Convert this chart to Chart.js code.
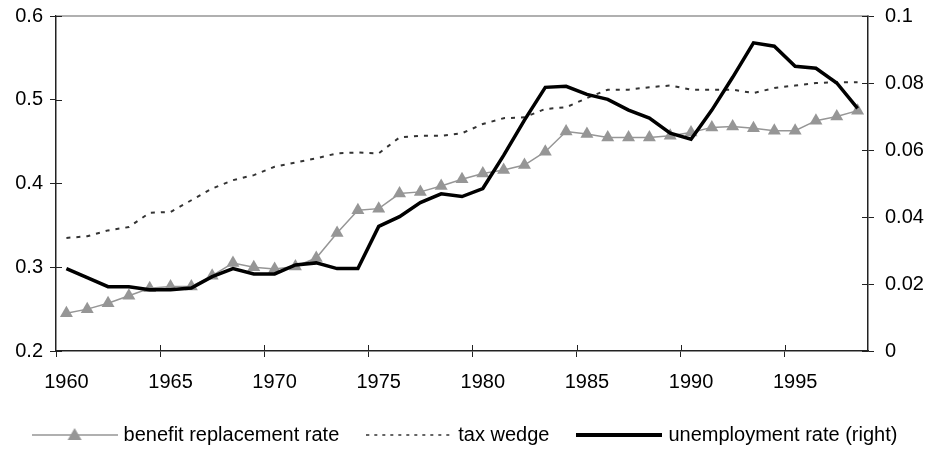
<!DOCTYPE html>
<html>
<head>
<meta charset="utf-8">
<script src="https://cdn.jsdelivr.net/npm/chart.js@4.4.1/dist/chart.umd.min.js"></script>
<style>
  body { margin: 0; background: #fff; }
  canvas { display: block; }
</style>
</head>
<body>
<canvas id="myChart" width="933" height="463"></canvas>
<script>
const years = [];
for (let y = 1960; y <= 1998; y++) years.push(String(y));

// left axis
const benefitRate = [
    0.245, 0.250, 0.257, 0.266, 0.275, 0.277, 0.277, 0.290, 0.305, 0.300,
    0.298, 0.301, 0.311, 0.341, 0.368, 0.370, 0.388, 0.390, 0.397, 0.405,
    0.412, 0.416, 0.422, 0.438, 0.462, 0.459, 0.455, 0.455, 0.455, 0.457,
    0.461, 0.467, 0.468, 0.466, 0.463, 0.463, 0.475, 0.480, 0.487
];
const taxWedge = [
    0.335, 0.337, 0.344, 0.348, 0.365, 0.366, 0.380, 0.394, 0.404, 0.410,
    0.420, 0.425, 0.430, 0.436, 0.437, 0.436, 0.455, 0.457, 0.457, 0.460,
    0.471, 0.478, 0.479, 0.489, 0.491, 0.502, 0.512, 0.512, 0.515, 0.517,
    0.512, 0.512, 0.512, 0.508, 0.514, 0.517, 0.520, 0.521, 0.521
];
// right axis
const unemploymentRate = [
    0.0246, 0.0219, 0.0192, 0.0192, 0.0183, 0.0183, 0.0188, 0.0222, 0.0246, 0.0230,
    0.0230, 0.0257, 0.0263, 0.0246, 0.0246, 0.0372, 0.0401, 0.0443, 0.0469, 0.0461,
    0.0485, 0.0584, 0.0689, 0.0787, 0.0790, 0.0766, 0.0751, 0.0719, 0.0695, 0.0650,
    0.0632, 0.0719, 0.0817, 0.0920, 0.0910, 0.0850, 0.0844, 0.0800, 0.0724
];

const FONT = 'Liberation Sans, Arial, sans-serif';
const GREY = 'rgb(150, 150, 150)';

// legend symbols: short line + marker, like the Excel legend
function legendIcon(kind) {
    const c = document.createElement('canvas');
    c.width = 86; c.height = 20;
    const g = c.getContext('2d');
    g.beginPath();
    g.moveTo(0, 10); g.lineTo(86, 10);
    if (kind === 'benefit') {
        g.strokeStyle = GREY; g.lineWidth = 1.5; g.stroke();
        g.fillStyle = GREY;
        g.beginPath();
        g.moveTo(43, 3); g.lineTo(50, 15); g.lineTo(36, 15); g.closePath();
        g.fill();
    } else if (kind === 'tax') {
        g.strokeStyle = '#333'; g.lineWidth = 1.5; g.setLineDash([3, 5]); g.stroke();
    } else {
        g.strokeStyle = '#000'; g.lineWidth = 4; g.stroke();
    }
    return c;
}
const icons = [legendIcon('benefit'), legendIcon('tax'), legendIcon('unemp')];

const axisExtras = {
    id: 'axisExtras',
    afterDraw(chart) {
        const {ctx, chartArea: a, scales} = chart;
        ctx.save();
        ctx.strokeStyle = 'rgb(150,150,150)';
        ctx.lineWidth = 1.5;
        ctx.beginPath();
        ctx.moveTo(a.left, a.top); ctx.lineTo(a.right, a.top);
        ctx.stroke();
        ctx.strokeStyle = '#222';
        ctx.lineWidth = 1;
        ctx.beginPath();
        scales.y.ticks.forEach((t, i) => {
            const py = Math.round(scales.y.getPixelForTick(i)) + 0.5;
            ctx.moveTo(a.left, py); ctx.lineTo(a.left + 6, py);
        });
        scales.y1.ticks.forEach((t, i) => {
            const py = Math.round(scales.y1.getPixelForTick(i)) + 0.5;
            ctx.moveTo(a.right - 6, py); ctx.lineTo(a.right, py);
        });
        for (let i = 5; i < years.length; i += 5) {
            const px = Math.round(scales.x.getPixelForValue(i - 0.5)) + 0.5;
            ctx.moveTo(px, a.bottom - 6); ctx.lineTo(px, a.bottom);
        }
        ctx.stroke();
        ctx.restore();
    }
};

const noPad = (s) => { s.paddingTop = 0; s.paddingBottom = 0; s.paddingLeft = 0; s.paddingRight = 0; };

new Chart(document.getElementById('myChart').getContext('2d'), {
    type: 'line',
    data: {
        labels: years,
        datasets: [{
            label: 'benefit replacement rate',
            data: benefitRate,
            yAxisID: 'y',
            borderColor: GREY,
            backgroundColor: GREY,
            borderWidth: 1.5,
            pointStyle: 'triangle',
            pointRadius: 7.5,
            pointBorderWidth: 0,
            order: 2
        }, {
            label: 'tax wedge',
            data: taxWedge,
            yAxisID: 'y',
            borderColor: '#333',
            borderWidth: 2,
            borderDash: [4, 6],
            pointRadius: 0,
            order: 1
        }, {
            label: 'unemployment rate (right)',
            data: unemploymentRate,
            yAxisID: 'y1',
            borderColor: '#000',
            borderWidth: 3.5,
            pointRadius: 0,
            order: 0
        }]
    },
    options: {
        responsive: false,
        animation: false,
        layout: { padding: { top: 16, left: 0, right: 0, bottom: 8 } },
        plugins: {
            tooltip: { enabled: false },
            legend: {
                position: 'bottom',
                labels: {
                    usePointStyle: true,
                    pointStyleWidth: 78,
                    padding: 31,
                    color: '#000',
                    font: { family: FONT, size: 20 },
                    generateLabels: (chart) => chart.data.datasets.map((ds, i) => ({
                        text: ds.label,
                        pointStyle: icons[i],
                        fillStyle: 'transparent',
                        strokeStyle: 'transparent',
                        lineWidth: 0,
                        hidden: false,
                        datasetIndex: i
                    }))
                }
            }
        },
        scales: {
            x: {
                type: 'category',
                offset: true,
                afterFit: (s) => { noPad(s); s.height = 43; },
                border: { color: '#222', width: 1.5 },
                grid: {
                    offset: true,
                    drawOnChartArea: false,
                    tickLength: 6,
                    color: (ctx) => (ctx.index !== undefined && ctx.index % 5 === 0) ? '#222' : 'rgba(0,0,0,0)'
                },
                ticks: {
                    autoSkip: false,
                    maxRotation: 0,
                    padding: 13,
                    color: '#000',
                    font: { family: FONT, size: 20 },
                    callback: function (v, i) { return i % 5 === 0 ? years[i] : ''; }
                }
            },
            y: {
                position: 'left',
                min: 0.2,
                max: 0.6,
                afterFit: (s) => { noPad(s); s.width = 56; },
                border: { color: '#222', width: 1.5 },
                grid: { drawOnChartArea: false, tickLength: 6, color: '#222' },
                ticks: {
                    stepSize: 0.1,
                    padding: 7,
                    color: '#000',
                    font: { family: FONT, size: 20 },
                    callback: (v) => String(Number(v.toFixed(2)))
                }
            },
            y1: {
                position: 'right',
                min: 0,
                max: 0.1,
                afterFit: (s) => { noPad(s); s.width = 65; },
                border: { color: '#222', width: 1.5 },
                grid: { drawOnChartArea: false, tickLength: 6, color: '#222' },
                ticks: {
                    stepSize: 0.02,
                    padding: 11,
                    color: '#000',
                    font: { family: FONT, size: 20 },
                    callback: (v) => String(Number(v.toFixed(2)))
                }
            }
        }
    },
    plugins: [axisExtras]
});
</script>
</body>
</html>
